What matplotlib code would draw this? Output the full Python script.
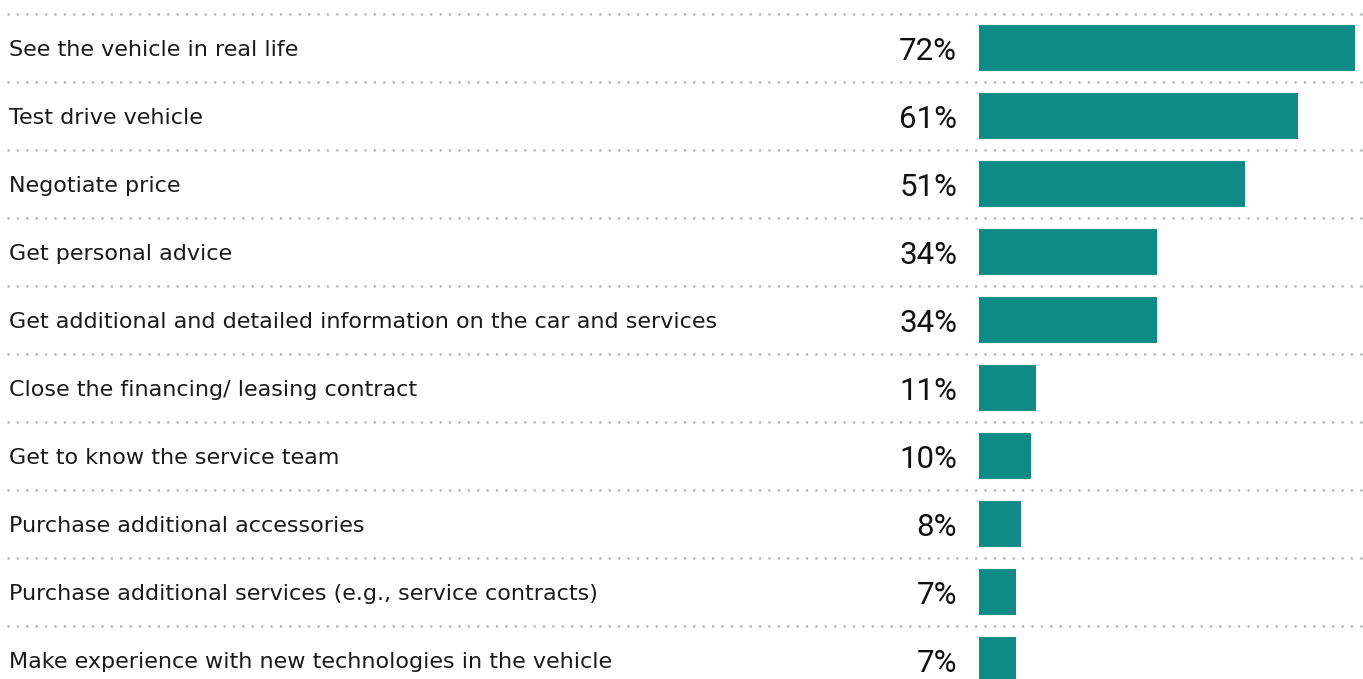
import matplotlib
matplotlib.use("Agg")
import matplotlib.pyplot as plt

# reasons to visit the dealership, share of respondents (%)
categories = [
    "See the vehicle in real life",
    "Test drive vehicle",
    "Negotiate price",
    "Get personal advice",
    "Get additional and detailed information on the car and services",
    "Close the financing/ leasing contract",
    "Get to know the service team",
    "Purchase additional accessories",
    "Purchase additional services (e.g., service contracts)",
    "Make experience with new technologies in the vehicle",
]
values = [72, 61, 51, 34, 34, 11, 10, 8, 7, 7]

BAR = "#0f8a85"
DOT = "#adb2b9"

W, H = 1363, 679
fig = plt.figure(figsize=(W / 100, H / 100), dpi=100)

# row geometry in pixels
top, pitch = 48, 68
n = len(categories)
ylim = ((H - top) / pitch, -top / pitch)

# background axes: dotted separators + category labels
bg = fig.add_axes([0, 0, 1, 1])
bg.set_xlim(0, W)
bg.set_ylim(*ylim)
bg.axis("off")
for i in range(n):
    bg.plot([8, W], [i - 0.5, i - 0.5], color=DOT, lw=1.9,
            linestyle=(0, (0.01, 3.55)), dash_capstyle="round")
    bg.text(9, i + 8 / pitch, categories[i], ha="left", va="baseline",
            fontsize=16, family="DejaVu Sans", color="#1a1a1a")

# bar axes
x0 = 979
px_per_pct = 376 / 72
ax = fig.add_axes([x0 / W, 0, (W - x0) / W, 1])
ax.set_xlim(0, (W - x0) / px_per_pct)
ax.set_ylim(*ylim)
ax.axis("off")
ax.patch.set_alpha(0)
ax.barh(range(n), values, height=46 / pitch, color=BAR, linewidth=0)
for i, v in enumerate(values):
    ax.annotate(f"{v}%", (0, i + 12.5 / pitch), xytext=(-15.8, 0),
                textcoords="offset points", ha="right", va="baseline",
                fontsize=22.5, family="Roboto", color="#111111",
                annotation_clip=False)

fig.savefig("out.png", dpi=100)
